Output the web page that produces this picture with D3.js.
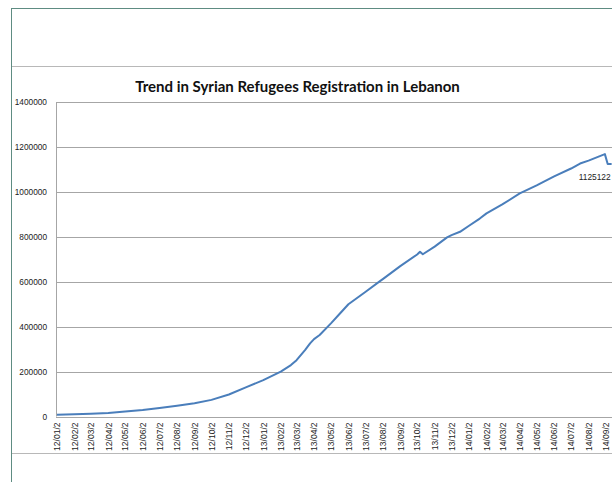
<!DOCTYPE html>
<html><head><meta charset="utf-8">
<script src="https://cdn.jsdelivr.net/npm/d3@7"></script>
<style>body{margin:0;background:#fff}svg{display:block}</style>
</head><body><svg id="c" width="612" height="482"></svg>
<script>
const title = "Trend in Syrian Refugees Registration in Lebanon";
const yTicks = [0,200000,400000,600000,800000,1000000,1200000,1400000];
const xLabels = ["12/01/2","12/02/2","12/03/2","12/04/2","12/05/2","12/06/2","12/07/2","12/08/2","12/09/2","12/10/2","12/11/2","12/12/2",
"13/01/2","13/02/2","13/03/2","13/04/2","13/05/2","13/06/2","13/07/2","13/08/2","13/09/2","13/10/2","13/11/2","13/12/2",
"14/01/2","14/02/2","14/03/2","14/04/2","14/05/2","14/06/2","14/07/2","14/08/2","14/09/2"];
const dates = ["2012-01-02","2012-02-02","2012-03-02","2012-04-02","2012-05-02","2012-06-02","2012-07-02","2012-08-02","2012-09-02","2012-10-02","2012-11-02","2012-12-02",
"2013-01-02","2013-02-02","2013-02-20","2013-03-02","2013-03-17","2013-03-26","2013-04-02","2013-04-12","2013-05-02","2013-05-18","2013-06-02","2013-07-02","2013-07-28","2013-08-02","2013-09-02","2013-10-02","2013-10-07","2013-10-12","2013-11-02","2013-11-24","2013-12-02","2013-12-17",
"2014-01-02","2014-01-21","2014-02-02","2014-03-02","2014-04-02","2014-05-02","2014-05-08","2014-06-02","2014-07-02","2014-07-18","2014-08-02","2014-08-31","2014-09-05","2014-09-12"];
const values = [8000,9500,12000,16000,22000,29000,38000,48000,59000,74000,98000,130000,
162000,200000,229000,251000,296000,326000,345000,363000,415000,459000,500000,555000,603000,612000,670000,722000,734000,723000,757000,798000,808000,823000,
850000,882000,905000,945000,994000,1030000,1038000,1070000,1105000,1127000,1140000,1169000,1125122,1125122];
const lastLabel = "1125122";

const svg = d3.select("#c");
const parse = d3.utcParse("%Y-%m-%d");
const labelDate = s => { const p = s.split("/"); return parse("20"+p[0]+"-"+p[1]+"-02"); };
const data = dates.map((d,i)=>({d:parse(d), v:values[i]}));

// frame
svg.append("line").attr("x1",11).attr("x2",612).attr("y1",8.5).attr("y2",8.5).attr("stroke","#5e8c82").attr("stroke-width",1);
svg.append("line").attr("x1",11.5).attr("x2",11.5).attr("y1",8).attr("y2",482).attr("stroke","#5e8c82").attr("stroke-width",1);
svg.append("line").attr("x1",12).attr("x2",612).attr("y1",66.5).attr("y2",66.5).attr("stroke","#b8b8b8").attr("stroke-width",1.2);
svg.append("line").attr("x1",12).attr("x2",612).attr("y1",453.5).attr("y2",453.5).attr("stroke","#b8b8b8").attr("stroke-width",1.2);

const x = d3.scaleUtc().domain([parse("2012-01-02"), parse("2014-09-02")]).range([57,606]);
const y = d3.scaleLinear().domain([0,1400000]).range([416.5,102.3]);

// gridlines
svg.append("g").selectAll("line").data(yTicks).join("line")
  .attr("x1",56).attr("x2",612).attr("y1",d=>Math.round(y(d))+0.5).attr("y2",d=>Math.round(y(d))+0.5)
  .attr("stroke","#a6a6a6").attr("stroke-width",1);
svg.append("line").attr("x1",56.5).attr("x2",56.5).attr("y1",y(1400000)).attr("y2",y(0)).attr("stroke","#a6a6a6");

// y axis labels
const yAxis = d3.axisLeft(y).tickValues(yTicks).tickSize(0).tickPadding(0).tickFormat(d3.format("d"));
const ga = svg.append("g").attr("transform","translate(47,0)").call(yAxis);
ga.select(".domain").remove();
ga.selectAll("text").attr("font-family","Liberation Sans, Arial").attr("font-size",8.3).attr("fill","#222");

// x axis labels
const gx = svg.append("g").attr("transform",`translate(0,${y(0)})`)
  .call(d3.axisBottom(x).tickValues(xLabels.map(labelDate)).tickSize(0).tickFormat((d,i)=>xLabels[i]));
gx.select(".domain").remove();
gx.selectAll("text").attr("font-family","Liberation Sans, Arial").attr("font-size",8.5).attr("fill","#222")
  .attr("transform","rotate(-90)").attr("text-anchor","end").attr("dy","0.32em").attr("x",-6).attr("y",0);

// line
svg.append("path").datum(data).attr("fill","none").attr("stroke","#4a7ebb").attr("stroke-width",2)
  .attr("stroke-linejoin","round")
  .attr("d", d3.line().x(d=>x(d.d)).y(d=>y(d.v)));

// data label
const last = data[data.length-2];
svg.append("text").attr("x",x(last.d)+3).attr("y",y(last.v)+16).attr("text-anchor","end")
  .attr("font-family","Liberation Sans, Arial").attr("font-size",8.4).attr("fill","#222").text(lastLabel);

// title
svg.append("text").attr("x",297.5).attr("y",92).attr("text-anchor","middle")
  .attr("font-family","Lato, Open Sans, sans-serif").attr("font-weight","bold").attr("font-size",15).attr("fill","#111")
  .text(title);
</script></body></html>
